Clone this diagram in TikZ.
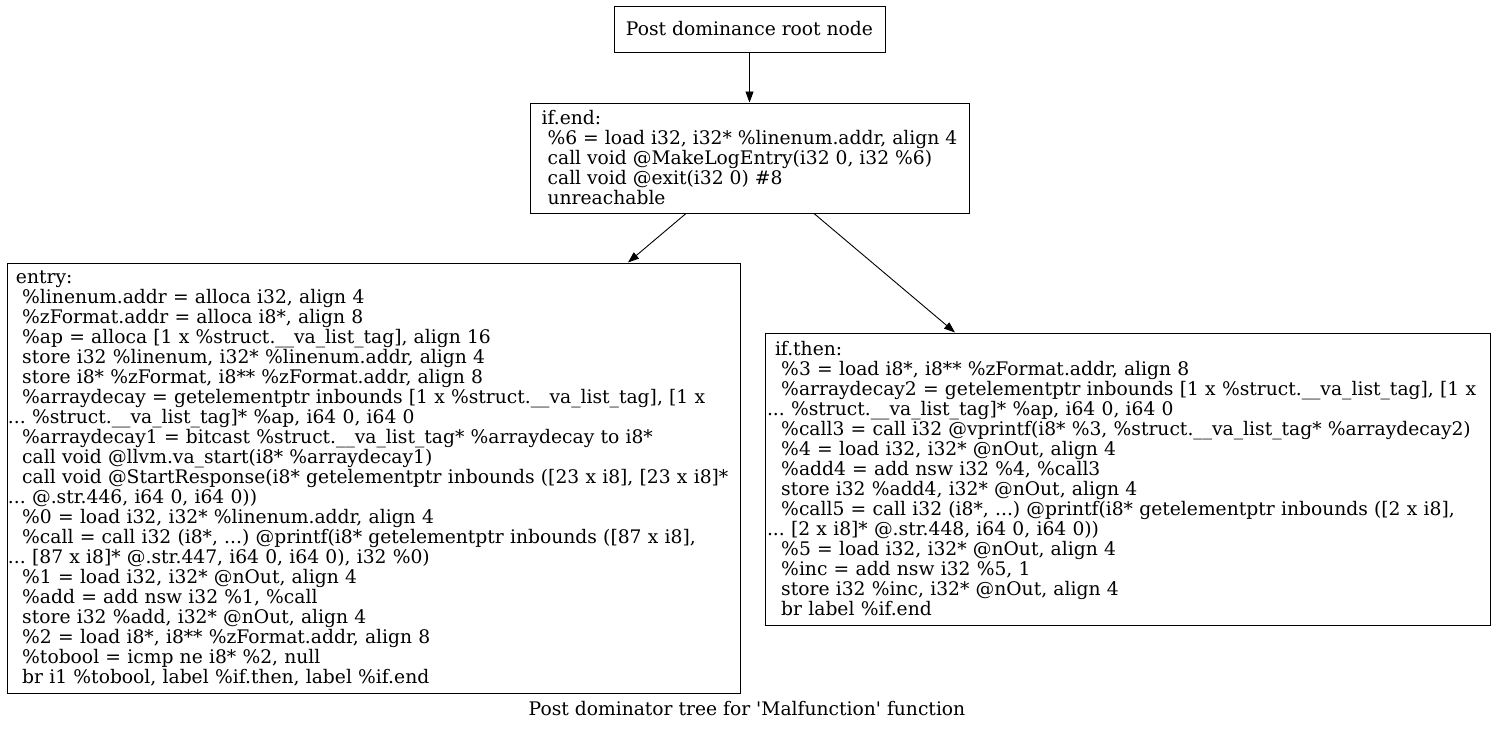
\documentclass[tikz,border=0pt]{standalone}
\usepackage{fontspec}
\setmainfont{DejaVu Serif}
\frenchspacing
\setlength{\parindent}{0pt}
\usetikzlibrary{arrows.meta}
\tikzstyle{block} = [rectangle, draw=black, line width=1pt, align=left, inner xsep=9pt, inner ysep=4pt, font=\fontsize{18.7}{20}\selectfont]
\tikzstyle{arrow} = [line width=0.9pt, -{Triangle[length=11pt, width=8pt]}]

\begin{document}
\begin{tikzpicture}[x=1pt, y=-1pt]
\useasboundingbox (0,0) rectangle (1495,731);
\node (root) [block, align=center, minimum width=271pt, minimum height=46pt] at (749.5,29) {Post dominance root node};
\node (ifend) [block, minimum width=439pt, minimum height=110pt] at (749.5,158) {if.end:\\
\ \%6 = load i32, i32* \%linenum.addr, align 4\\
\ call void @MakeLogEntry(i32 0, i32 \%6)\\
\ call void @exit(i32 0) \#8\\
\ unreachable};
\node (entry) [block, text width=715pt, minimum height=430pt] at (373.5,478) {entry:\\
\ \%linenum.addr = alloca i32, align 4\\
\ \%zFormat.addr = alloca i8*, align 8\\
\ \%ap = alloca [1 x \%struct.\_\_va\_list\_tag], align 16\\
\ store i32 \%linenum, i32* \%linenum.addr, align 4\\
\ store i8* \%zFormat, i8** \%zFormat.addr, align 8\\
\ \%arraydecay = getelementptr inbounds [1 x \%struct.\_\_va\_list\_tag], [1 x\\
\hspace*{-8pt}... \%struct.\_\_va\_list\_tag]* \%ap, i64 0, i64 0\\
\ \%arraydecay1 = bitcast \%struct.\_\_va\_list\_tag* \%arraydecay to i8*\\
\ call void @llvm.va\_start(i8* \%arraydecay1)\\
\ call void @StartResponse(i8* getelementptr inbounds ([23 x i8], [23 x i8]*\\
\hspace*{-8pt}... @.str.446, i64 0, i64 0))\\
\ \%0 = load i32, i32* \%linenum.addr, align 4\\
\ \%call = call i32 (i8*, ...) @printf(i8* getelementptr inbounds ([87 x i8],\\
\hspace*{-8pt}... [87 x i8]* @.str.447, i64 0, i64 0), i32 \%0)\\
\ \%1 = load i32, i32* @nOut, align 4\\
\ \%add = add nsw i32 \%1, \%call\\
\ store i32 \%add, i32* @nOut, align 4\\
\ \%2 = load i8*, i8** \%zFormat.addr, align 8\\
\ \%tobool = icmp ne i8* \%2, null\\
\ br i1 \%tobool, label \%if.then, label \%if.end};
\node (ifthen) [block, inner xsep=10pt, text width=705pt, minimum height=292pt] at (1127.5,479) {if.then:\\
\ \%3 = load i8*, i8** \%zFormat.addr, align 8\\
\ \%arraydecay2 = getelementptr inbounds [1 x \%struct.\_\_va\_list\_tag], [1 x\\
\hspace*{-8pt}... \%struct.\_\_va\_list\_tag]* \%ap, i64 0, i64 0\\
\ \%call3 = call i32 @vprintf(i8* \%3, \%struct.\_\_va\_list\_tag* \%arraydecay2)\\
\ \%4 = load i32, i32* @nOut, align 4\\
\ \%add4 = add nsw i32 \%4, \%call3\\
\ store i32 \%add4, i32* @nOut, align 4\\
\ \%call5 = call i32 (i8*, ...) @printf(i8* getelementptr inbounds ([2 x i8],\\
\hspace*{-8pt}... [2 x i8]* @.str.448, i64 0, i64 0))\\
\ \%5 = load i32, i32* @nOut, align 4\\
\ \%inc = add nsw i32 \%5, 1\\
\ store i32 \%inc, i32* @nOut, align 4\\
\ br label \%if.end};
\node (title) [font=\fontsize{18.7}{20}\selectfont] at (747,709) {Post dominator tree for \textquotesingle Malfunction\textquotesingle{} function};
\draw [arrow] (root.south) -- (ifend.north);
\draw [arrow] ([xshift=-63.5pt]ifend.south) -- ([xshift=254.5pt]entry.north);
\draw [arrow] ([xshift=64.5pt]ifend.south) -- ([xshift=-172.5pt]ifthen.north);
\end{tikzpicture}
\end{document}
